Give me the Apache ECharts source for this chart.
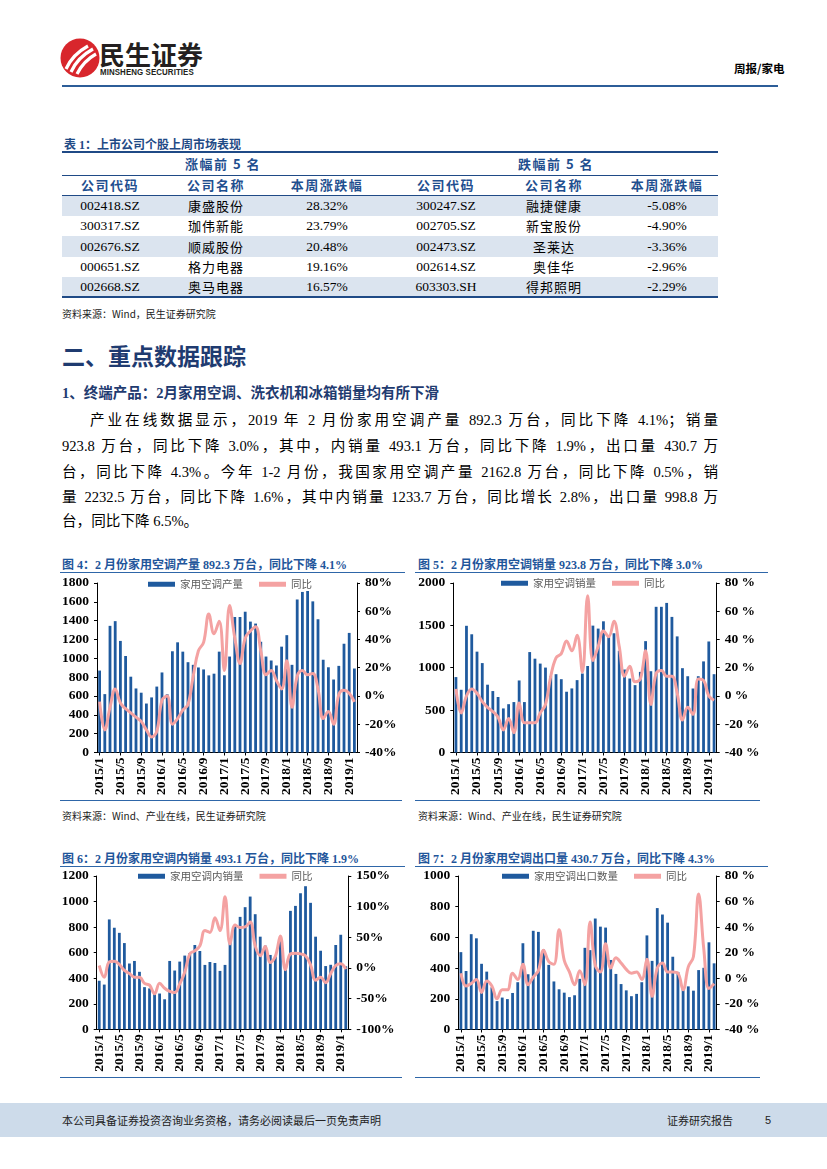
<!DOCTYPE html>
<html><head><meta charset="utf-8">
<script src="https://cdn.jsdelivr.net/npm/echarts@6/dist/echarts.min.js"></script>
<style>
html,body{margin:0;padding:0;}
body{width:827px;height:1169px;position:relative;background:#fff;overflow:hidden;font-family:"Liberation Serif","Noto Sans CJK SC",serif;color:#000;}
.a{position:absolute;white-space:nowrap;}
.hl{position:absolute;height:0;}
.cell{position:absolute;width:120px;text-align:center;font-size:13.5px;line-height:20px;}
.hd{font-weight:bold;color:#1f4f8f;font-size:13px;letter-spacing:1.5px;font-family:"Noto Sans CJK SC",sans-serif;}
.cn{font-family:"Noto Sans CJK SC",sans-serif;font-size:13px;letter-spacing:1px;}
.para{position:absolute;font-size:14.6px;line-height:20px;text-align:justify;text-align-last:justify;white-space:normal;}
.ctitle{position:absolute;font-size:12px;font-weight:bold;color:#1f569b;white-space:nowrap;}
.src{position:absolute;font-size:10px;white-space:nowrap;font-family:"Noto Sans CJK SC",sans-serif;color:#222;}
.chart{position:absolute;}
</style></head><body>
<script>
// ---------- data ----------
const months = ['2015/1','2015/2','2015/3','2015/4','2015/5','2015/6','2015/7','2015/8','2015/9','2015/10','2015/11','2015/12',
'2016/1','2016/2','2016/3','2016/4','2016/5','2016/6','2016/7','2016/8','2016/9','2016/10','2016/11','2016/12',
'2017/1','2017/2','2017/3','2017/4','2017/5','2017/6','2017/7','2017/8','2017/9','2017/10','2017/11','2017/12',
'2018/1','2018/2','2018/3','2018/4','2018/5','2018/6','2018/7','2018/8','2018/9','2018/10','2018/11','2018/12',
'2019/1','2019/2'];

const prodBars = [870,620,1345,1395,1185,1025,805,680,635,520,585,700, 850,618,1075,1170,1071,959,931,903,882,819,837,1071, 820,1019,1439,1439,1495,1390,1369,1176,1019,977,924,1124, 1246,931,1625,1705,1715,1605,1415,985,905,775,920,1155, 1270,892];
const prodYoY = [-4,-24,-8,5,-5,-9,-12,-15,-18,-24,-29,-25, -3,0,-20,-16,-10,-6,14,32,38,58,44,53, 18,64,41,23,41,46,49,32,15,18,11,5, 25,-8,14,18,15,16,5,-16,-11,-20,1,4, 2,-4.1];

const salesBars = [890,740,1495,1395,1190,1055,800,725,655,520,570,595, 850,595,1185,1107,1049,1002,900,924,865,717,756,854, 932,1021,1497,1462,1548,1360,1407,1200,979,873,795,951, 1314,959,1719,1719,1765,1600,1370,995,900,755,900,1075, 1310,924];
const salesYoY = [5,-12,0,5,2,-4,-8,-11,-15,-24,-16,-26, -5,-19,-19,-19,-12,-6,14,27,30,39,32,43, 17,71,25,35,46,42,53,35,14,21,10,12, 32,-6,16,18,14,14,2,-17,-8,-13,12,11, 0,-3];

const domBars = [380,350,860,795,755,675,515,535,450,330,320,285, 280,235,535,460,530,577,597,660,613,504,527,519, 457,504,700,810,880,956,1039,901,725,655,582,570, 690,503,927,966,1065,1120,990,725,615,495,505,660, 740,493];
const domYoY = [4,-15,10,11,6,-4,-9,-15,-15,-25,-28,-42, -25,-33,-38,-40,-26,-7,23,28,36,61,58,82, 61,116,39,70,66,67,75,36,20,35,9,19, 52,-3,23,24,23,20,5,-20,-15,-24,-9,4, 7,-1.9];

const expBars = [504,381,621,594,428,377,275,185,208,198,238,308, 562,360,643,636,521,421,313,262,240,211,223,330, 532,517,723,670,664,453,362,296,255,217,232,308, 613,447,791,749,696,474,375,270,281,253,387,402, 568,431];
const expYoY = [4,-6,-4,-1,-11,-2,-6,-16,-9,-9,4,-1, 11,-5,1,6,22,13,11,38,14,5,-5,6, -5,44,10,5,27,8,16,12,7,4,5,-1, 15,-14,8,12,5,5,4,-9,9,17,66,23, -8,-4.3];

const tableHeaders = ['公司代码','公司名称','本周涨跌幅','公司代码','公司名称','本周涨跌幅'];
const upCodes = ['002418.SZ','300317.SZ','002676.SZ','000651.SZ','002668.SZ'];
const upNames = ['康盛股份','珈伟新能','顺威股份','格力电器','奥马电器'];
const upPct = ['28.32%','23.79%','20.48%','19.16%','16.57%'];
const downCodes = ['300247.SZ','002705.SZ','002473.SZ','002614.SZ','603303.SH'];
const downNames = ['融捷健康','新宝股份','圣莱达','奥佳华','得邦照明'];
const downPct = ['-5.08%','-4.90%','-3.36%','-2.96%','-2.29%'];
</script>

<!-- header -->
<svg class="a" style="left:58px;top:36px" width="44" height="44" viewBox="0 0 44 44">
  <circle cx="22" cy="22" r="19.5" fill="#d8262c"/>
  <path d="M8,33 C12,24 19,16 30,10" stroke="#fff" stroke-width="3.2" fill="none"/>
  <path d="M13,36 C17,27 24,19 35,13" stroke="#fff" stroke-width="3.2" fill="none"/>
  <path d="M19,38 C23,30 29,23 38,18" stroke="#fff" stroke-width="3.2" fill="none"/>
</svg>
<div class="a" style="left:99px;top:38px;font-size:26px;font-weight:bold;font-family:'Noto Sans CJK SC',sans-serif;color:#231f20;line-height:32px;">民生证券</div>
<div class="a" style="left:100px;top:67px;font-size:9.2px;font-weight:bold;font-family:'Liberation Sans',sans-serif;color:#231f20;transform:scaleX(0.86);transform-origin:0 0;letter-spacing:0.1px;">MINSHENG SECURITIES</div>
<div class="a" style="left:734px;top:60px;font-size:11.5px;font-weight:bold;font-family:'Noto Sans CJK SC',sans-serif;">周报/家电</div>
<div class="hl" style="left:62px;top:85px;width:716px;border-top:2.5px solid #2c5d98;"></div>

<!-- table -->
<div class="a" style="left:64px;top:135px;font-size:12px;font-weight:bold;color:#1f4a86;font-family:'Liberation Serif','Noto Sans CJK SC',serif;">表 1：上市公司个股上周市场表现</div>
<div class="hl" style="left:62px;top:151px;width:656px;border-top:2px solid #1f4a86;"></div>
<div class="hl" style="left:62px;top:175px;width:656px;border-top:1px solid #1f4a86;"></div>
<div class="hl" style="left:62px;top:195px;width:656px;border-top:1px solid #1f4a86;"></div>
<div class="a" style="left:62px;top:196px;width:656px;height:20px;background:#dbe4ef;"></div>
<div class="a" style="left:62px;top:236px;width:656px;height:20.5px;background:#dbe4ef;"></div>
<div class="a" style="left:62px;top:277px;width:656px;height:20px;background:#dbe4ef;"></div>
<div class="hl" style="left:62px;top:296px;width:656px;border-top:2px solid #1f4a86;"></div>
<div id="tbl"></div>
<div class="src" style="left:62px;top:306px;">资料来源：Wind，民生证券研究院</div>

<!-- text -->
<div class="a" style="left:62px;top:340px;font-size:23px;font-weight:bold;color:#1f3b70;font-family:'Noto Sans CJK SC',sans-serif;line-height:30px;">二、重点数据跟踪</div>
<div class="a" style="left:62px;top:383px;font-size:14.5px;font-weight:bold;color:#1f3b70;font-family:'Liberation Serif','Noto Sans CJK SC',serif;line-height:20px;">1、终端产品：2月家用空调、洗衣机和冰箱销量均有所下滑</div>
<div class="para" style="left:90px;top:410px;width:628px;">产业在线数据显示，2019 年 2 月份家用空调产量 892.3 万台，同比下降 4.1%；销量</div>
<div class="para" style="left:62px;top:436px;width:656px;">923.8 万台，同比下降 3.0%，其中，内销量 493.1 万台，同比下降 1.9%，出口量 430.7 万</div>
<div class="para" style="left:62px;top:462px;width:656px;">台，同比下降 4.3%。今年 1-2 月份，我国家用空调产量 2162.8 万台，同比下降 0.5%，销</div>
<div class="para" style="left:62px;top:487px;width:656px;">量 2232.5 万台，同比下降 1.6%，其中内销量 1233.7 万台，同比增长 2.8%，出口量 998.8 万</div>
<div class="para" style="left:62px;top:511px;width:656px;text-align-last:left;">台，同比下降 6.5%。</div>

<!-- chart frames -->
<div class="ctitle" style="left:62px;top:555px;">图 4：2 月份家用空调产量 892.3 万台，同比下降 4.1%</div>
<div class="hl" style="left:60px;top:572px;width:345px;border-top:1.5px solid #2e66a8;"></div>
<div class="hl" style="left:60px;top:800px;width:342px;border-top:1.5px solid #2e66a8;"></div>
<div class="src" style="left:62px;top:808px;">资料来源：Wind、产业在线，民生证券研究院</div>

<div class="ctitle" style="left:418px;top:555px;">图 5：2 月份家用空调销量 923.8 万台，同比下降 3.0%</div>
<div class="hl" style="left:415px;top:572px;width:353px;border-top:1.5px solid #2e66a8;"></div>
<div class="hl" style="left:415px;top:800px;width:345px;border-top:1.5px solid #2e66a8;"></div>
<div class="src" style="left:418px;top:808px;">资料来源：Wind、产业在线，民生证券研究院</div>

<div class="ctitle" style="left:62px;top:849px;">图 6：2 月份家用空调内销量 493.1 万台，同比下降 1.9%</div>
<div class="hl" style="left:60px;top:866px;width:345px;border-top:1.5px solid #2e66a8;"></div>
<div class="hl" style="left:60px;top:1077px;width:342px;border-top:1.5px solid #2e66a8;"></div>

<div class="ctitle" style="left:418px;top:849px;">图 7：2 月份家用空调出口量 430.7 万台，同比下降 4.3%</div>
<div class="hl" style="left:415px;top:866px;width:353px;border-top:1.5px solid #2e66a8;"></div>
<div class="hl" style="left:415px;top:1077px;width:345px;border-top:1.5px solid #2e66a8;"></div>

<div id="c4" class="chart" style="left:40px;top:576px;width:370px;height:222px;"></div>
<div id="c5" class="chart" style="left:400px;top:576px;width:370px;height:222px;"></div>
<div id="c6" class="chart" style="left:40px;top:869px;width:370px;height:206px;"></div>
<div id="c7" class="chart" style="left:400px;top:869px;width:370px;height:206px;"></div>

<!-- footer -->
<div class="a" style="left:0;top:1103px;width:827px;height:34px;background:#cddbea;"></div>
<div class="a" style="left:62px;top:1112px;font-size:11px;font-family:'Noto Sans CJK SC',sans-serif;color:#222;line-height:16px;">本公司具备证券投资咨询业务资格，请务必阅读最后一页免责声明</div>
<div class="a" style="left:667px;top:1112px;font-size:11px;font-family:'Noto Sans CJK SC',sans-serif;color:#222;line-height:16px;">证券研究报告</div>
<div class="a" style="left:765px;top:1112px;font-size:11px;font-family:'Liberation Sans',sans-serif;color:#222;line-height:16px;">5</div>

<script>
// table cells
(function(){
  const cols = [110,216,327,446,554,667];
  let h = '';
  const cell = (x,y,txt,cls) => { h += '<div class="cell '+(cls||'')+'" style="left:'+(x-60)+'px;top:'+(y-10)+'px;">'+txt+'</div>'; };
  cell(223,164,'涨幅前 5 名','hd');
  cell(556,164,'跌幅前 5 名','hd');
  tableHeaders.forEach((t,i)=>cell(cols[i],185,t,'hd'));
  const ys = [206,226,246.5,267,287];
  for (let r=0;r<5;r++){
    cell(cols[0],ys[r],upCodes[r]);
    cell(cols[1],ys[r],upNames[r],'cn');
    cell(cols[2],ys[r],upPct[r]);
    cell(cols[3],ys[r],downCodes[r]);
    cell(cols[4],ys[r],downNames[r],'cn');
    cell(cols[5],ys[r],downPct[r]);
  }
  document.getElementById('tbl').innerHTML = h;
})();

const BAR = '#1f5a9e', LINE = '#f4a2a2';
function build(id, o){
  const ch = echarts.init(document.getElementById(id), null, {renderer:'canvas'});
  const lblL = {fontSize:13.5, fontWeight:'bold', fontFamily:'Liberation Serif', color:'#000', margin:8};
  ch.setOption({
    animation:false,
    grid:{left:o.gl, top:o.gt, width:o.gw, height:o.gh, containLabel:false},
    legend:{left:o.lgx, top:o.lgy, padding:0, itemWidth:27, itemHeight:5, itemGap:16,
      textStyle:{fontSize:10.5, color:'#595959', fontFamily:'Noto Sans CJK SC'},
      data:[{name:o.barName, icon:'rect', itemStyle:{color:BAR}}, {name:'同比', icon:'rect', itemStyle:{color:LINE}}]},
    xAxis:{type:'category', data:months, boundaryGap:true,
      axisLine:{lineStyle:{color:'#000', width:1}},
      axisTick:{show:true, interval:3, alignWithLabel:true, length:3, lineStyle:{color:'#000'}},
      axisLabel:{interval:3, rotate:90, fontSize:13.5, fontWeight:'bold', fontFamily:'Liberation Serif', color:'#000', margin:5}},
    yAxis:[
      {type:'value', min:0, max:o.lmax, interval:o.lint, splitLine:{show:false},
        axisLine:{show:true, lineStyle:{color:'#000'}}, axisTick:{show:true, length:3, lineStyle:{color:'#000'}},
        axisLabel:Object.assign({}, lblL, {formatter: v => String(v)})},
      {type:'value', min:o.rmin, max:o.rmax, interval:o.rint, position:'right', splitLine:{show:false},
        axisLine:{show:true, lineStyle:{color:'#000'}}, axisTick:{show:true, length:3, lineStyle:{color:'#000'}},
        axisLabel:Object.assign({}, lblL, {formatter: v => v + o.pct})}
    ],
    series:[
      {type:'bar', name:o.barName, data:o.bars, barWidth:2.8, itemStyle:{color:BAR}},
      {type:'line', name:'同比', yAxisIndex:1, data:o.yoy, smooth:0.4, symbol:'none', z:5,
        lineStyle:{color:LINE, width:3}, itemStyle:{color:LINE}}
    ]
  });
}

build('c4', {gl:57, gt:6, gw:260, gh:171, lgx:108, lgy:3, barName:'家用空调产量', bars:prodBars, yoy:prodYoY,
  lmax:1800, lint:200, rmin:-40, rmax:80, rint:20, pct:'%'});
build('c5', {gl:53.3, gt:6.3, gw:263.4, gh:170.4, lgx:101, lgy:2, barName:'家用空调销量', bars:salesBars, yoy:salesYoY,
  lmax:2000, lint:500, rmin:-40, rmax:80, rint:20, pct:' %'});
build('c6', {gl:56.7, gt:6, gw:251.6, gh:154.3, lgx:98, lgy:2, barName:'家用空调内销量', bars:domBars, yoy:domYoY,
  lmax:1200, lint:200, rmin:-100, rmax:150, rint:50, pct:'%'});
build('c7', {gl:58.3, gt:5.3, gw:258.4, gh:156.4, lgx:102, lgy:2, barName:'家用空调出口数量', bars:expBars, yoy:expYoY,
  lmax:1000, lint:200, rmin:-40, rmax:80, rint:20, pct:' %'});
</script>
</body></html>
